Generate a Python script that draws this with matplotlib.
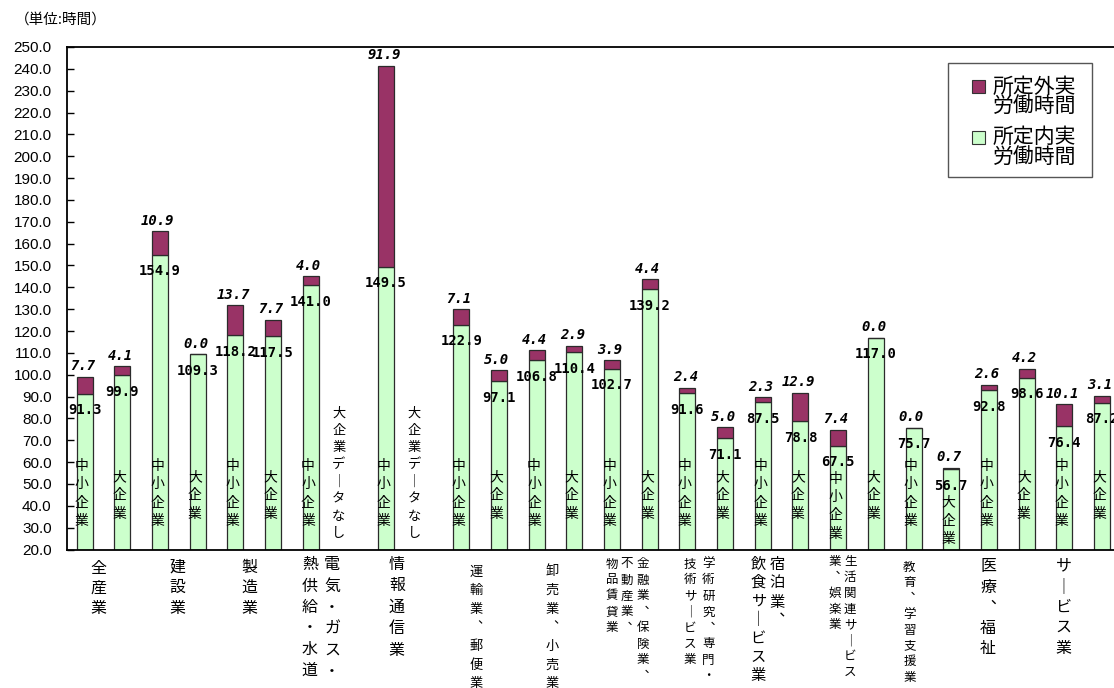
import matplotlib
matplotlib.use("Agg")
import matplotlib.pyplot as plt
from matplotlib.patches import Rectangle
from matplotlib import transforms

plt.rcParams['font.family'] = ['Noto Sans CJK JP', 'DejaVu Sans']

# ---- data -------------------------------------------------------------
industries = [
    ["全産業"],
    ["建設業"],
    ["製造業"],
    ["電気・ガス・", "熱供給・水道"],
    ["情報通信業"],
    ["運輸業︑郵便業"],
    ["卸売業︑小売業"],
    ["金融業︑保険業︑", "不動産業︑", "物品賃貸業"],
    ["学術研究︑専門・", "技術サ｜ビス業"],
    ["宿泊業︑", "飲食サ｜ビス業"],
    ["生活関連サ｜ビス", "業︑娯楽業"],
    ["教育︑学習支援業"],
    ["医療︑福祉"],
    ["サ｜ビス業"],
]
sme_within = [91.3, 154.9, 118.2, 141.0, 149.5, 122.9, 106.8, 102.7, 91.6,
              87.5, 67.5, 75.7, 92.8, 76.4]
sme_over = [7.7, 10.9, 13.7, 4.0, 91.9, 7.1, 4.4, 3.9, 2.4,
            2.3, 7.4, 0.0, 2.6, 10.1]
large_within = [99.9, 109.3, 117.5, None, None, 97.1, 110.4, 139.2, 71.1,
                78.8, 117.0, 56.7, 98.6, 87.2]
large_over = [4.1, 0.0, 7.7, None, None, 5.0, 2.9, 4.4, 5.0,
              12.9, 0.0, 0.7, 4.2, 3.1]
size_names = ["中小企業", "大企業"]
no_data_text = "大企業デ｜タなし"
series_names = [["所定外実", "労働時間"], ["所定内実", "労働時間"]]
y_ticks = list(range(20, 251, 10))
unit_text = "（単位:時間）"

# ---- style / layout ---------------------------------------------------
C_OVER = "#993366"
C_WITHIN = "#CCFFCC"
C_EDGE = "#2b2b2b"
W, H = 1114, 688
BAR_W = 0.425
Y0_PX, Y1_PX = 549.5, 47.0

# column layout for the category names: (x, first char centre px, step px, size)
label_cols = [
    [(0.38, 568, 20.0, 11.5)],
    [(2.46, 567, 20.8, 11.5)],
    [(4.37, 567, 20.8, 11.5)],
    [(6.57, 565, 21.3, 11.5), (5.98, 565, 21.0, 11.5)],
    [(8.29, 564, 21.6, 11.5)],
    [(10.39, 572, 18.6, 9.5)],
    [(12.41, 572, 18.6, 9.5)],
    [(14.82, 564, 16.0, 9), (14.38, 564, 16.0, 9), (14.00, 564, 16.0, 9)],
    [(16.56, 564, 16.0, 9), (16.07, 564, 16.0, 9)],
    [(18.38, 564, 19.0, 11), (17.88, 564, 18.6, 11)],
    [(20.32, 562, 15.7, 9), (19.90, 562, 15.7, 9)],
    [(21.89, 567, 15.8, 9)],
    [(23.98, 567, 20.4, 11.5)],
    [(25.98, 566, 20.5, 11.5)],
]

fig = plt.figure(figsize=(W / 100, H / 100), dpi=100)
ax = fig.add_axes([67 / W, 1 - Y0_PX / H, (1117 - 67) / W, (Y0_PX - Y1_PX) / H])
ax.set_xlim(-0.465, 27.4)
ax.set_ylim(20, 250)

ypx = transforms.blended_transform_factory(ax.transData, fig.transFigure)


def fy(px):
    return 1 - px / H


def value_to_px(v):
    return Y0_PX - (v - 20) * (Y0_PX - Y1_PX) / 230


def vtext(x, y0, s, size, step, **kw):
    """Write a string top-to-bottom, one character per cell."""
    for i, ch in enumerate(s):
        ax.text(x, fy(y0 + i * step), ch, transform=ypx, fontsize=size,
                ha="center", va="center", zorder=5, **kw)


vfont = dict(family="DejaVu Sans Mono", weight="bold")

for i in range(len(industries)):
    pairs = [(sme_within[i], sme_over[i]), (large_within[i], large_over[i])]
    for k, (inner, outer) in enumerate(pairs):
        x = 2 * i + k
        if inner is None:
            vtext(x - 0.25, 413.5, no_data_text, 9.5, 17.1)
            continue
        ax.bar(x, inner - 20, bottom=20, width=BAR_W, color=C_WITHIN,
               edgecolor=C_EDGE, linewidth=0.9, zorder=2)
        ax.bar(x, outer, bottom=inner, width=BAR_W, color=C_OVER,
               edgecolor=C_EDGE, linewidth=0.9, zorder=2)
        ax.annotate(f"{inner:.1f}", (x, inner), xytext=(0, -12), textcoords="offset points",
                    ha="center", va="center", fontsize=10, zorder=6, **vfont)
        ax.annotate(f"{outer:.1f}", (x, inner + outer), xytext=(-1.5, 7.5),
                    textcoords="offset points", ha="center", va="center",
                    fontsize=10, style="italic", zorder=6, **vfont)
        # size class written inside the bar
        default = 466 if k == 0 else 477
        y0 = max(default, value_to_px(inner) + 33)
        vtext(x - 0.07, y0, size_names[k], 10, 18.3)

# category names under the axis
for cols, text in zip(label_cols, industries):
    for (x, y0, step, size), s in zip(cols, text):
        vtext(x, y0, s, size, step)

# axes styling
ax.spines["right"].set_visible(False)
for side in ["top", "left", "bottom"]:
    ax.spines[side].set_linewidth(1.3)
    ax.spines[side].set_color("black")
ax.set_xticks([])
ax.set_yticks(y_ticks)
ax.set_yticklabels([f"{v:.1f}" for v in y_ticks], family="Liberation Sans", fontsize=11)
ax.tick_params(axis="y", direction="in", length=5, width=1, pad=11)

fig.text(15 / W, fy(20), unit_text, fontsize=10.5, ha="left", va="center")

# legend box
fig.patches.append(Rectangle((948 / W, fy(177)), 144 / W, 114 / H, transform=fig.transFigure,
                             facecolor="white", edgecolor="#555555", linewidth=1.0, zorder=10))
for (color, lines, y1) in [(C_OVER, series_names[0], 86.7), (C_WITHIN, series_names[1], 137.3)]:
    s = 13.0
    fig.patches.append(Rectangle((972 / W, fy(y1 + s / 2)), s / W, s / H, transform=fig.transFigure,
                                 facecolor=color, edgecolor="#333333", linewidth=0.8, zorder=11))
    for j, line in enumerate(lines):
        fig.text(993 / W, fy(y1 + j * 20.5), line, fontsize=15, ha="left", va="center", zorder=12)

fig.savefig("out.png", dpi=100)
